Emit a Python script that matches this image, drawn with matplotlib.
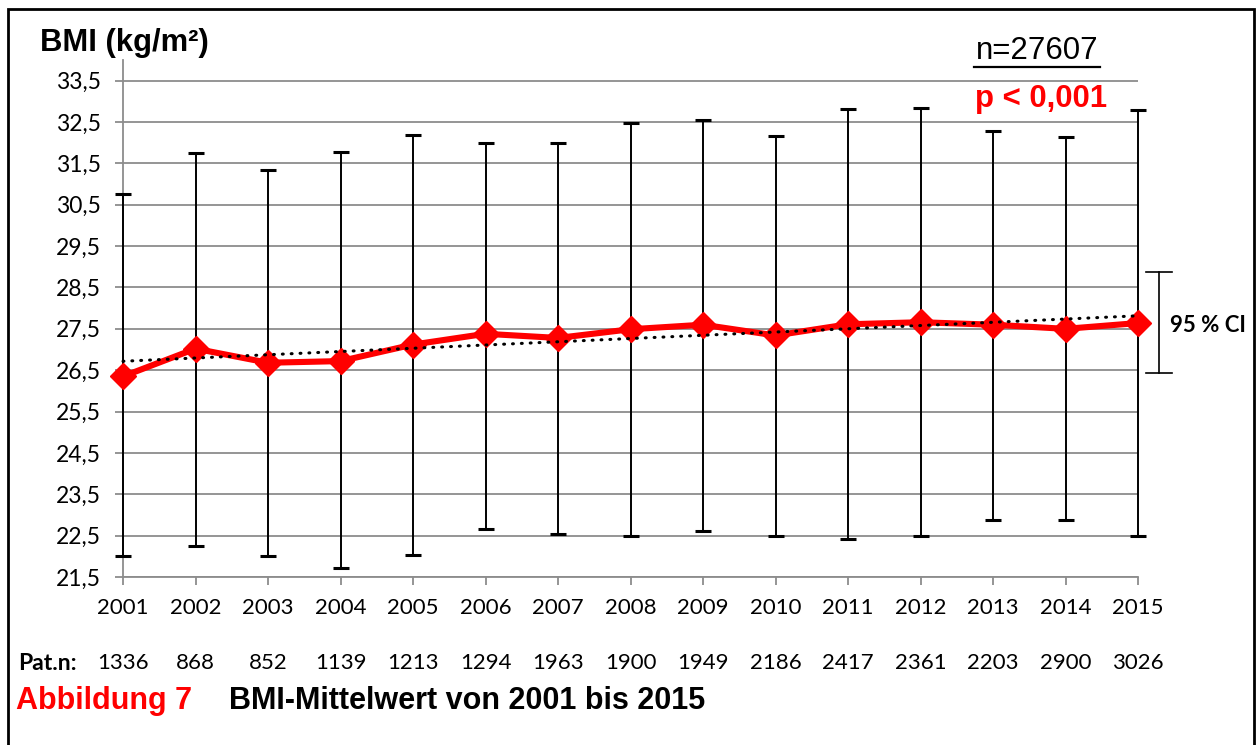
import numpy as np
import matplotlib
matplotlib.use("Agg")
import matplotlib.pyplot as plt
from matplotlib.patches import Rectangle
from matplotlib.lines import Line2D

years = [2001, 2002, 2003, 2004, 2005, 2006, 2007, 2008, 2009, 2010, 2011, 2012, 2013, 2014, 2015]
bmi_mean = [26.35, 27.02, 26.68, 26.72, 27.12, 27.38, 27.28, 27.49, 27.60, 27.34, 27.61, 27.66, 27.60, 27.50, 27.64]
ci_low = [22.00, 22.26, 22.00, 21.71, 22.02, 22.67, 22.53, 22.48, 22.62, 22.50, 22.43, 22.48, 22.89, 22.89, 22.50]
ci_high = [30.77, 31.75, 31.34, 31.78, 32.19, 31.99, 31.99, 32.48, 32.56, 32.16, 32.82, 32.84, 32.28, 32.14, 32.79]
pat_n = [1336, 868, 852, 1139, 1213, 1294, 1963, 1900, 1949, 2186, 2417, 2361, 2203, 2900, 3026]
yticks = np.arange(21.5, 34.0, 1.0)

num_font = ["Lato", "DejaVu Sans"]
arial = ["Liberation Sans", "DejaVu Sans"]
grid_col = "#8c8c8c"
W, H = 1256, 745

fig = plt.figure(figsize=(12.56, 7.45), dpi=100)
ax = fig.add_axes([123 / W, 1 - 577 / H, (1138 - 123) / W, (577 - 60) / H])

x = np.arange(len(years))
mean = np.array(bmi_mean)
lo = np.array(ci_low)
hi = np.array(ci_high)

eb = ax.errorbar(x, mean, yerr=[mean - lo, hi - mean], fmt="none", ecolor="black",
                 elinewidth=1.4, capsize=5.5, capthick=2.2, zorder=3)
for art in eb.lines[1] + eb.lines[2]:
    art.set_clip_on(False)
ax.plot(x, mean, color="#ff0000", lw=4.4, marker="D", markersize=13.5,
        solid_joinstyle="round", zorder=4, clip_on=False)

# linear trend (Excel-style)
k, d = np.polyfit(x, mean, 1)
ax.plot(x, k * x + d, color="black", lw=2.2, linestyle=(0, (0.3, 2.6)),
        dash_capstyle="round", zorder=5, clip_on=False)

ax.set_xlim(0, len(years) - 1)
ax.set_ylim(21.5, 34.0)
ax.set_yticks(yticks)
ax.set_yticklabels([f"{v:.1f}".replace(".", ",") for v in yticks])
ax.set_xticks(x)
ax.set_xticklabels([str(y) for y in years])
ax.grid(axis="y", color=grid_col, lw=1.3)
ax.set_axisbelow(True)
for s in ["top", "right"]:
    ax.spines[s].set_visible(False)
for s in ["left", "bottom"]:
    ax.spines[s].set_color(grid_col)
    ax.spines[s].set_linewidth(1.3)
ax.tick_params(axis="both", colors=grid_col, length=5.8, width=1.3, labelcolor="black")
ax.tick_params(axis="x", pad=9, labelsize=16)
ax.tick_params(axis="y", pad=10, labelsize=16.5)
for lab in ax.get_xticklabels() + ax.get_yticklabels():
    lab.set_family(num_font)

# patient counts row
for xi, n in zip(x, pat_n):
    ax.annotate(str(n), xy=(xi, 0), xycoords=("data", "figure fraction"),
                xytext=(0, 1 - 663 / H), textcoords=("offset points", "figure fraction"),
                ha="center", va="center", fontsize=16, family=num_font)
fig.text(18 / W, 1 - 663 / H, "Pat.n:", ha="left", va="center", fontsize=16.5,
         fontweight="bold", family=num_font)

fig.text(40 / W, 1 - 43 / H, "BMI (kg/m²)", ha="left", va="center", fontsize=22.3,
         fontweight="bold", family=arial)
fig.text(1037 / W, 1 - 51 / H, "n=27607", ha="center", va="center", fontsize=22.5,
         family=arial)
fig.add_artist(Line2D([974 / W, 1100 / W], [1 - 67 / H, 1 - 67 / H],
                      color="black", lw=1.6))
fig.text(1041 / W, 1 - 99 / H, "p < 0,001", ha="center", va="center", fontsize=22.4,
         fontweight="bold", color="#ff0000", family=arial)

# 95 % CI key
cx = 1159 / W
ytop, ybot = 1 - 272 / H, 1 - 373 / H
fig.add_artist(Line2D([cx, cx], [ytop, ybot], color="black", lw=1.2))
for yy in (ytop, ybot):
    fig.add_artist(Line2D([1146 / W, 1172 / W], [yy, yy], color="black", lw=1.2))
fig.text(1170 / W, 1 - 326 / H, "95 % CI", ha="left", va="center", fontsize=16,
         fontweight="bold", family=num_font)

# caption
fig.text(16 / W, 1 - 701 / H, "Abbildung 7", ha="left", va="center", fontsize=22,
         fontweight="bold", color="#ff0000", family=arial)
fig.text(229 / W, 1 - 701 / H, "BMI-Mittelwert von 2001 bis 2015", ha="left",
         va="center", fontsize=22, fontweight="bold", family=arial)

# outer frame
fig.add_artist(Rectangle((8 / W, -0.05), (1254 - 8) / W, 1.05 - 9 / H,
                         transform=fig.transFigure, fill=False, edgecolor="black", lw=2))

fig.savefig("out.png", dpi=100)
